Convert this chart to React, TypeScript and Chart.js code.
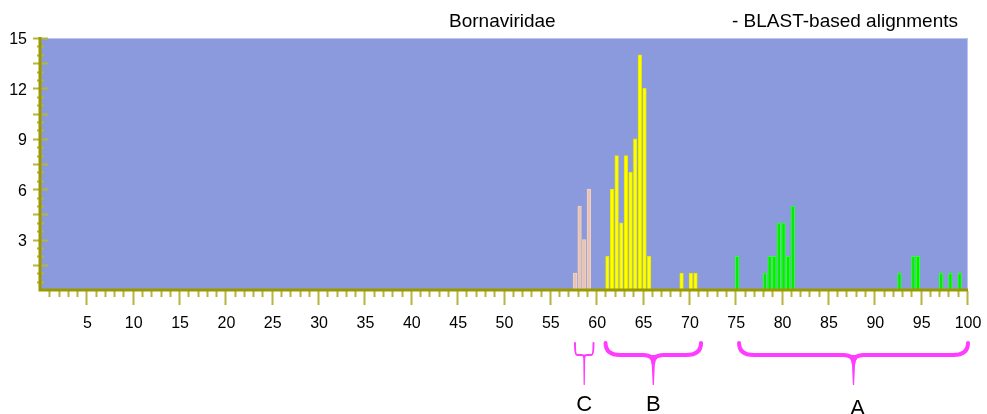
import { useEffect, useRef } from "react";
import { Chart, registerables } from "chart.js";

Chart.register(...registerables);

// ---- text ----
const TITLE_LEFT = "Bornaviridae";
const TITLE_RIGHT = "- BLAST-based alignments";

// ---- axes ----
const X_MIN = 0;
const X_MAX = 100;
const X_LABEL_STEP = 5;
const Y_MIN = 0;
const Y_MAX = 15;
const Y_LABEL_STEP = 3;

// ---- series: half-unit bin starts and counts ----
const C_BINS = [57.5, 58, 58.5, 59];
const C_COUNTS = [1, 5, 3, 6];

const B_BINS = [61, 61.5, 62, 62.5, 63, 63.5, 64, 64.5, 65, 65.5, 69, 70, 70.5];
const B_COUNTS = [2, 6, 8, 4, 8, 7, 9, 14, 12, 2, 1, 1, 1];

const A_BINS = [75, 78, 78.5, 79, 79.5, 80, 80.5, 81, 92.5, 94, 94.5, 97, 98, 99];
const A_COUNTS = [2, 1, 2, 2, 4, 4, 2, 5, 1, 2, 2, 1, 1, 1];

// ---- group annotations (braces) ----
const GROUP_LABELS = ["C", "B", "A"];
const GROUP_FROM = [57.6, 60.9, 75.3];
const GROUP_TO = [59.6, 71.2, 100];

const FONT = "'Liberation Sans', Arial, Helvetica, sans-serif";
const AXIS_COLOR = "#9a9a00";
const TICK_COLOR = "#b5b540";
const PLOT_BG = "#8a9adc";
const BRACE_COLOR = "#ff3cff";
const BAR_SHIFT = 0.1;

const toPoints = (bins: number[], counts: number[]) =>
  bins.map((b, i) => ({ x: b + BAR_SHIFT, y: counts[i] }));

const decorPlugin = {
  id: "decor",
  beforeDatasetsDraw(chart: any) {
    const { ctx, chartArea } = chart;
    ctx.save();
    ctx.fillStyle = PLOT_BG;
    ctx.fillRect(chartArea.left, chartArea.top, chartArea.right - chartArea.left, chartArea.bottom - chartArea.top);
    ctx.strokeStyle = "#bcc5ef";
    ctx.lineWidth = 1;
    ctx.beginPath();
    ctx.moveTo(chartArea.left, chartArea.top + 0.5);
    ctx.lineTo(chartArea.right - 0.5, chartArea.top + 0.5);
    ctx.lineTo(chartArea.right - 0.5, chartArea.bottom);
    ctx.stroke();
    ctx.restore();
  },
  afterDraw(chart: any) {
    const { ctx, chartArea } = chart;
    const xs = chart.scales.x;
    const ys = chart.scales.y;
    ctx.save();
    // x ticks
    ctx.strokeStyle = TICK_COLOR;
    ctx.lineWidth = 2;
    for (let v = X_MIN + 1; v <= X_MAX; v++) {
      const px = Math.round(xs.getPixelForValue(v)) - 0.5;
      const major = v % X_LABEL_STEP === 0;
      ctx.beginPath();
      ctx.moveTo(px, chartArea.bottom + 1);
      ctx.lineTo(px, chartArea.bottom + (major ? 15 : 7));
      ctx.stroke();
    }
    // y ticks
    for (let k = 1; k <= (Y_MAX - Y_MIN) * 2; k++) {
      const v = Y_MIN + k * 0.5;
      const py = Math.round(ys.getPixelForValue(v)) + 0.5;
      const major = Math.abs(v / (Y_LABEL_STEP / 2) - Math.round(v / (Y_LABEL_STEP / 2))) < 1e-6;
      ctx.beginPath();
      if (major) {
        ctx.moveTo(chartArea.left - 8, py);
        ctx.lineTo(chartArea.left + 7, py);
      } else {
        ctx.moveTo(chartArea.left - 4, py);
        ctx.lineTo(chartArea.left + 3, py);
      }
      ctx.stroke();
    }
    // axis lines
    ctx.strokeStyle = AXIS_COLOR;
    ctx.lineWidth = 3;
    ctx.beginPath();
    ctx.moveTo(chartArea.left - 1, chartArea.top - 1);
    ctx.lineTo(chartArea.left - 1, chartArea.bottom);
    ctx.lineTo(chartArea.right, chartArea.bottom);
    ctx.stroke();

    // titles
    ctx.fillStyle = "#000";
    ctx.font = `19px ${FONT}`;
    ctx.textBaseline = "alphabetic";
    ctx.textAlign = "left";
    ctx.fillText(TITLE_LEFT, 449, 27);
    ctx.fillText(TITLE_RIGHT, 732, 27);

    // braces
    const top = 343;
    const mid = 355;
    const stem = 385;
    GROUP_LABELS.forEach((lab, i) => {
      const x0 = xs.getPixelForValue(GROUP_FROM[i]);
      const x1 = xs.getPixelForValue(GROUP_TO[i]);
      const xm = (x0 + x1) / 2;
      const small = x1 - x0 < 40;
      const r = small ? 2 : 15;
      const rc = small ? 3 : 10;
      ctx.strokeStyle = BRACE_COLOR;
      ctx.lineWidth = small ? 2 : 4;
      ctx.lineCap = "round";
      ctx.lineJoin = "round";
      ctx.beginPath();
      ctx.moveTo(x0, top);
      ctx.quadraticCurveTo(x0, mid, x0 + r, mid);
      ctx.lineTo(xm - rc, mid);
      ctx.quadraticCurveTo(xm, mid, xm, mid + rc * 0.8);
      ctx.quadraticCurveTo(xm, mid, xm + rc, mid);
      ctx.lineTo(x1 - r, mid);
      ctx.quadraticCurveTo(x1, mid, x1, top);
      ctx.stroke();
      // stem (tapered)
      ctx.fillStyle = BRACE_COLOR;
      const w = small ? 1 : 2;
      ctx.beginPath();
      ctx.moveTo(xm - w, mid);
      ctx.lineTo(xm + w, mid);
      ctx.lineTo(xm + 0.6, stem);
      ctx.lineTo(xm - 0.6, stem);
      ctx.closePath();
      ctx.fill();
      // label
      ctx.fillStyle = "#000";
      ctx.font = `22px ${FONT}`;
      ctx.textAlign = "center";
      ctx.textBaseline = "middle";
      ctx.fillText(lab, xm + (i === 2 ? 4 : 0), i === 2 ? 409 : 405);
    });
    ctx.restore();
  },
};

export default function App() {
  const ref = useRef<HTMLCanvasElement | null>(null);
  useEffect(() => {
    if (!ref.current) return;
    const common = { grouped: false, barThickness: 3.6, borderWidth: 1 };
    const chart = new Chart(ref.current, {
      type: "bar",
      data: {
        datasets: [
          { label: "C", data: toPoints(C_BINS, C_COUNTS), backgroundColor: "#e9c3b0", borderColor: "#f2d3c4", ...common },
          { label: "B", data: toPoints(B_BINS, B_COUNTS), backgroundColor: "#ffff00", borderColor: "#e6e600", ...common },
          { label: "A", data: toPoints(A_BINS, A_COUNTS), backgroundColor: "#00ee00", borderColor: "#33ff33", ...common },
        ] as any,
      },
      options: {
        responsive: false,
        animation: false,
        layout: { padding: { top: 38, right: 0, left: 0, bottom: 0 } },
        plugins: { legend: { display: false }, tooltip: { enabled: false }, title: { display: false } },
        scales: {
          x: {
            type: "linear",
            min: X_MIN,
            max: X_MAX,
            offset: false,
            grid: { display: false, drawTicks: false, offset: false },
            border: { display: false },
            ticks: {
              stepSize: X_LABEL_STEP,
              autoSkip: false,
              maxRotation: 0,
              padding: 24,
              color: "#000",
              font: { family: FONT, size: 16 },
              callback: (v: any) => (v === 0 ? "" : String(v)),
            },
            afterFit: (s: any) => {
              s.height = 124;
              s.paddingRight = 19;
            },
          },
          y: {
            min: Y_MIN,
            max: Y_MAX,
            grid: { display: false, drawTicks: false },
            border: { display: false },
            ticks: {
              stepSize: Y_LABEL_STEP,
              padding: 14,
              labelOffset: 2,
              color: "#000",
              font: { family: FONT, size: 16 },
              callback: (v: any) => (v === 0 ? "" : String(v)),
            },
            afterFit: (s: any) => {
              s.width = 41;
            },
          },
        },
      } as any,
      plugins: [decorPlugin],
    });
    return () => chart.destroy();
  }, []);
  return (
    <div style={{ position: "fixed", left: 0, top: 0, width: 987, height: 414, background: "#fff" }}>
      <canvas ref={ref} width={987} height={414} style={{ display: "block", width: 987, height: 414 }} />
    </div>
  );
}
